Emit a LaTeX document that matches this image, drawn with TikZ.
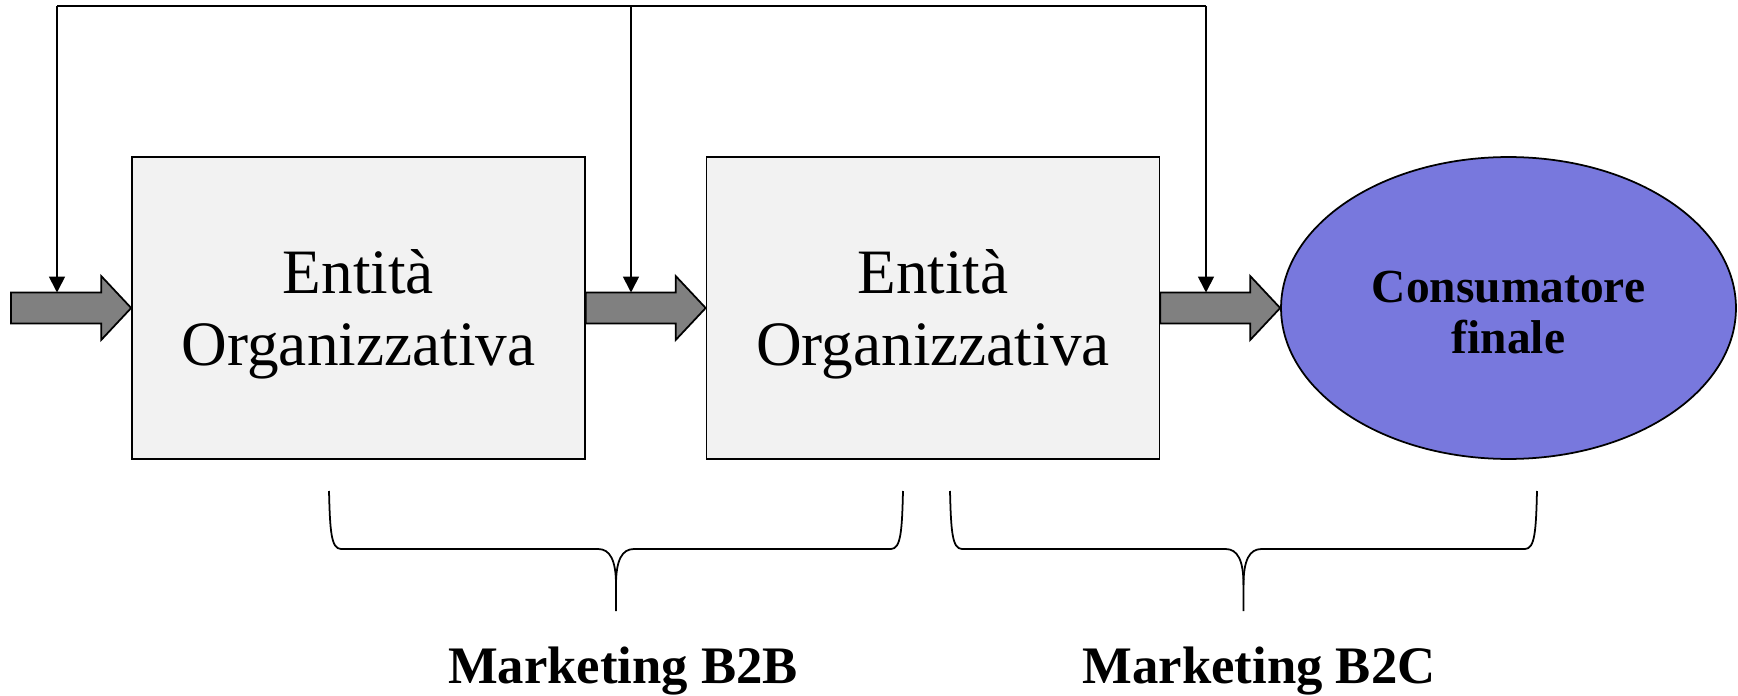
\documentclass[tikz,border=0pt]{standalone}
\usepackage{fontspec}
\setmainfont{Liberation Serif}
\usetikzlibrary{calc,arrows.meta,shapes.geometric}

\definecolor{boxgray}{HTML}{F2F2F2}
\definecolor{arrowgray}{HTML}{808080}
\definecolor{consblue}{HTML}{7878DD}

% fat grey arrow from #1 to #2 (same height)
\newcommand{\fatarrow}[2]{%
  \filldraw[fill=arrowgray,line width=1pt,line join=miter]
    ($(#1)+(0,-15.5)$) -- ($(#2)+(-30,-15.5)$) -- ($(#2)+(-30,-32)$) -- (#2)
    -- ($(#2)+(-30,32)$) -- ($(#2)+(-30,15.5)$) -- ($(#1)+(0,15.5)$) -- cycle;}

% curly bracket under the boxes, from x=#1 to x=#2
\newcommand{\drawbrace}[2]{%
  \draw[line width=1pt] (#1,491) .. controls (#1+1,530) and (#1+2,549) .. (#1+12,549)
    -- ({(#1+#2)/2-18},549) .. controls ({(#1+#2)/2-6},549) and ({(#1+#2)/2},560) .. ({(#1+#2)/2},585)
    -- ({(#1+#2)/2},611);
  \draw[line width=1pt] (#2,491) .. controls (#2-1,530) and (#2-2,549) .. (#2-12,549)
    -- ({(#1+#2)/2+18},549) .. controls ({(#1+#2)/2+6},549) and ({(#1+#2)/2},560) .. ({(#1+#2)/2},585);}

\begin{document}
\begin{tikzpicture}[x=0.02cm,y=-0.02cm,
  entita/.style={draw,line width=1pt,fill=boxgray,minimum width=9.06cm,minimum height=6.04cm,inner sep=0pt},
  boxtext/.style={align=center,yshift=-0.13cm,font=\fontsize{36}{41}\selectfont},
  feed/.style={line width=1pt,-{Triangle[length=0.32cm,width=0.32cm]}}]

\useasboundingbox (0,0) rectangle (1738,696);

\node[entita,label={[boxtext]center:Entità\\Organizzativa}] (org1) at (358.5,308) {};
\node[entita,label={[boxtext]center:Entità\\Organizzativa}] (org2) at (933,308) {};
\node[ellipse,draw,line width=1pt,fill=consblue,minimum width=9.1cm,minimum height=6.04cm,inner sep=0pt,
  label={[align=center,yshift=-0.1cm,font=\fontsize{27}{29}\selectfont\bfseries]center:Consumatore\\finale}] (cons) at (1508.5,308) {};

\coordinate (in) at (11,308);

\fatarrow{in}{org1.west}
\fatarrow{org1.east}{org2.west}
\fatarrow{org2.east}{cons.west}

% feedback lines from the top
\coordinate (top1) at (57,6);
\coordinate (top2) at (631,6);
\coordinate (top3) at (1206,6);
\draw[line width=1pt] (top1) -- (top3);
\draw[feed] (top1) -- (57,292.5);
\draw[feed] (top2) -- (631,292.5);
\draw[feed] (top3) -- (1206,292.5);

\drawbrace{329}{903}
\drawbrace{950}{1537}

\node[anchor=base,font=\fontsize{30}{32}\selectfont\bfseries] (b2b) at (623,683) {Marketing B2B};
\node[anchor=base,font=\fontsize{30}{32}\selectfont\bfseries] (b2c) at (1259,683) {Marketing B2C};
\end{tikzpicture}
\end{document}
